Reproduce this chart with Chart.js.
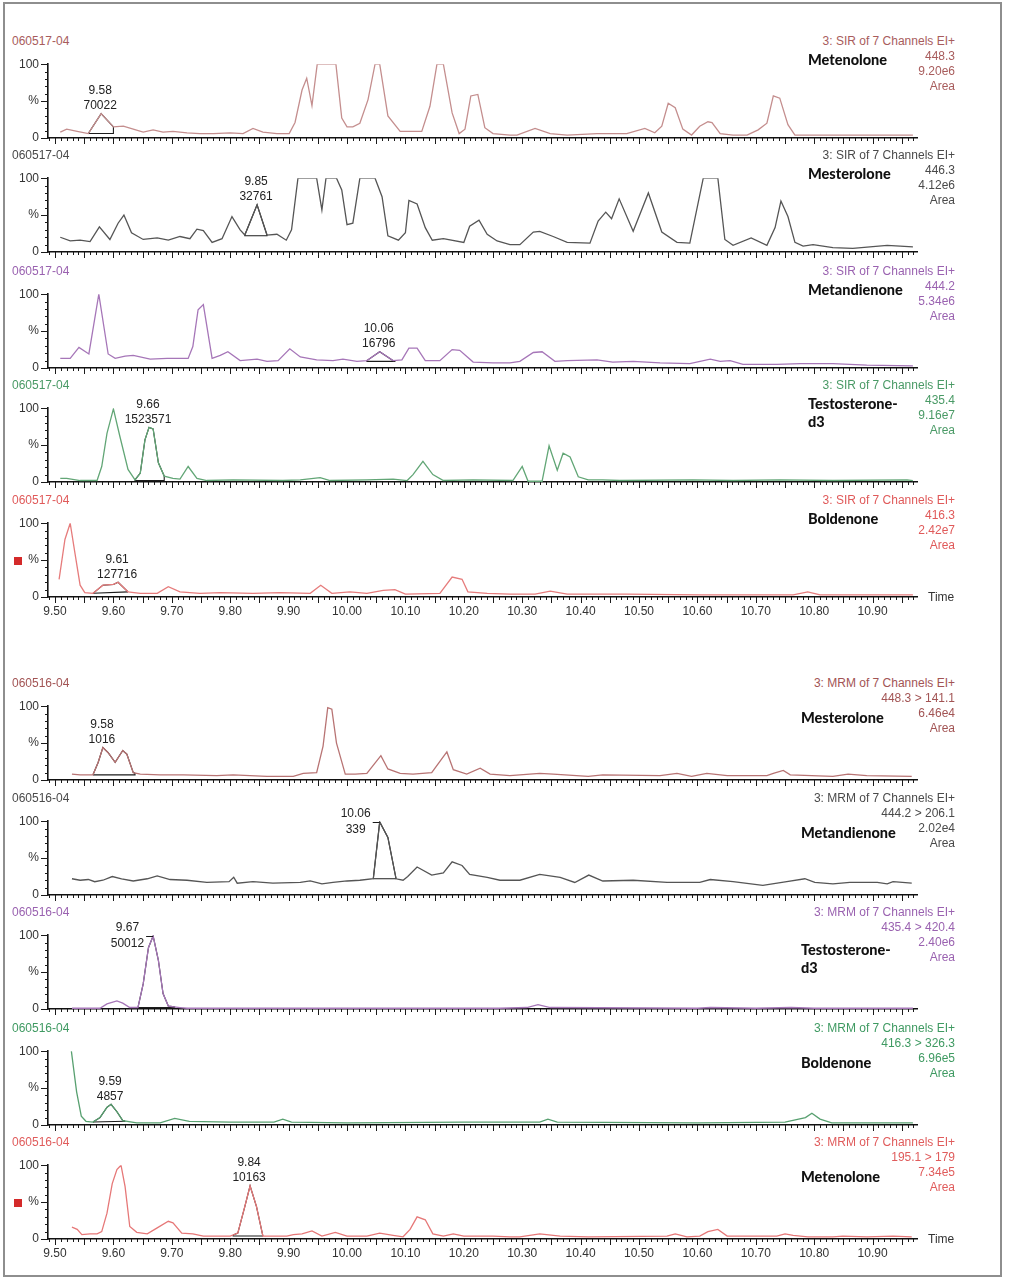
<!DOCTYPE html>
<html><head><meta charset="utf-8">
<script src="https://cdn.jsdelivr.net/npm/chart.js@4/dist/chart.umd.min.js"></script>
<style>
html,body{margin:0;padding:0;background:#fff;}
body{width:1014px;height:1280px;position:relative;overflow:hidden;font-family:"Liberation Sans",Arial,sans-serif;}
.frame{position:absolute;left:3px;top:2px;width:995px;height:1271px;border:2px solid #8e8e8e;}
canvas{position:absolute;left:0;}
.t{position:absolute;font-size:12px;line-height:14px;white-space:nowrap;}
.c{position:absolute;font-family:Lato,"DejaVu Sans",sans-serif;font-weight:900;font-size:14.5px;line-height:18px;color:#111;white-space:pre;}
.sq{position:absolute;width:8px;height:8px;background:#d42a2a;}
</style></head><body>
<div class="frame"></div>
<script>
// ---------------- DATA ----------------
const sampleIds = ['060517-04', '060516-04'];
const sirTitle = '3: SIR of 7 Channels EI+';
const mrmTitle = '3: MRM of 7 Channels EI+';
const sirChannels = ['448.3', '446.3', '444.2', '435.4', '416.3'];
const sirScales = ['9.20e6', '4.12e6', '5.34e6', '9.16e7', '2.42e7'];
const sirCompounds = ['Metenolone', 'Mesterolone', 'Metandienone', 'Testosterone-\nd3', 'Boldenone'];
const mrmChannels = ['448.3 > 141.1', '444.2 > 206.1', '435.4 > 420.4', '416.3 > 326.3', '195.1 > 179'];
const mrmScales = ['6.46e4', '2.02e4', '2.40e6', '6.96e5', '7.34e5'];
const mrmCompounds = ['Mesterolone', 'Metandienone', 'Testosterone-\nd3', 'Boldenone', 'Metenolone'];
const xTickValues = [9.5, 9.6, 9.7, 9.8, 9.9, 10.0, 10.1, 10.2, 10.3, 10.4, 10.5, 10.6, 10.7, 10.8, 10.9];
const yTickValues = [0, 50, 100];
const yTickLabels = ['0', '%', '100'];

// [time (min), relative intensity (%)]
const sirMetenolone = [[9.509,8],[9.52,12],[9.538,9],[9.557,6],[9.579,33],[9.60,15],[9.617,16],[9.634,12],[9.651,8],[9.668,11],[9.685,8],[9.702,9],[9.726,7],[9.748,6],[9.771,6],[9.80,7],[9.822,6],[9.839,13],[9.856,8],[9.88,6],[9.901,6],[9.911,21],[9.923,65],[9.931,81],[9.94,44],[9.949,100],[9.981,100],[9.991,27],[10.0,15],[10.01,15],[10.022,20],[10.036,52],[10.048,100],[10.056,100],[10.07,30],[10.091,9],[10.128,9],[10.142,43],[10.154,100],[10.165,100],[10.18,34],[10.192,6],[10.202,12],[10.212,57],[10.224,59],[10.236,14],[10.25,6],[10.279,4],[10.291,4],[10.322,13],[10.348,6],[10.377,4],[10.428,6],[10.479,6],[10.51,13],[10.527,7],[10.539,16],[10.55,47],[10.562,41],[10.575,12],[10.59,4],[10.604,16],[10.618,22],[10.625,21],[10.639,6],[10.661,4],[10.685,4],[10.704,11],[10.719,20],[10.73,57],[10.741,54],[10.755,18],[10.767,4],[10.832,4],[10.849,4],[10.969,4]];
const sirMesterolone = [[9.509,20],[9.526,15],[9.543,16],[9.56,14],[9.576,34],[9.594,17],[9.608,39],[9.618,50],[9.631,26],[9.651,17],[9.675,19],[9.694,16],[9.714,21],[9.731,18],[9.743,31],[9.754,29],[9.769,13],[9.786,18],[9.803,48],[9.817,30],[9.825,23],[9.846,64],[9.863,23],[9.88,24],[9.896,16],[9.905,30],[9.916,100],[9.948,100],[9.957,57],[9.964,100],[9.982,100],[9.991,84],[10.0,37],[10.01,39],[10.022,100],[10.048,100],[10.06,75],[10.07,22],[10.088,16],[10.1,26],[10.106,70],[10.12,65],[10.134,33],[10.146,16],[10.165,18],[10.2,13],[10.21,35],[10.226,43],[10.24,24],[10.257,15],[10.279,10],[10.296,10],[10.319,27],[10.33,28],[10.353,21],[10.377,13],[10.416,12],[10.43,42],[10.443,54],[10.453,45],[10.466,72],[10.49,28],[10.516,80],[10.539,27],[10.565,13],[10.587,12],[10.61,100],[10.635,100],[10.647,17],[10.661,9],[10.692,19],[10.719,9],[10.733,33],[10.743,69],[10.755,48],[10.767,13],[10.781,8],[10.798,10],[10.832,6],[10.866,5],[10.925,9],[10.969,7]];
const sirMetandienone = [[9.509,13],[9.526,13],[9.541,28],[9.558,19],[9.575,100],[9.591,19],[9.603,13],[9.62,16],[9.634,17],[9.663,12],[9.692,13],[9.728,13],[9.736,29],[9.745,79],[9.754,86],[9.769,13],[9.783,17],[9.796,22],[9.817,10],[9.846,12],[9.863,9],[9.882,10],[9.902,26],[9.92,15],[9.948,11],[9.976,10],[9.993,12],[10.017,9],[10.034,10],[10.056,22],[10.079,10],[10.094,11],[10.106,27],[10.12,27],[10.134,10],[10.159,10],[10.18,25],[10.193,24],[10.216,8],[10.25,7],[10.279,7],[10.296,9],[10.319,21],[10.334,22],[10.356,9],[10.377,10],[10.428,11],[10.455,8],[10.49,9],[10.536,7],[10.587,6],[10.622,12],[10.639,9],[10.656,10],[10.678,5],[10.736,5],[10.776,6],[10.832,6],[10.89,4],[10.969,3]];
const sirTestosteroneD3 = [[9.509,5],[9.52,5],[9.543,2],[9.572,2],[9.58,21],[9.589,66],[9.6,99],[9.611,62],[9.625,17],[9.637,3],[9.646,12],[9.654,57],[9.661,74],[9.668,72],[9.677,26],[9.687,8],[9.702,5],[9.714,4],[9.728,21],[9.743,5],[9.76,2],[9.805,3],[9.89,2],[9.92,3],[9.954,6],[9.971,2],[10.034,3],[10.079,4],[10.103,2],[10.113,10],[10.13,28],[10.147,10],[10.165,2],[10.216,3],[10.284,2],[10.3,21],[10.31,1],[10.334,1],[10.346,49],[10.36,16],[10.37,39],[10.382,34],[10.396,7],[10.413,3],[10.438,3],[10.467,2],[10.592,3],[10.661,2],[10.741,3],[10.832,2],[10.959,3],[10.969,2]];
const sirBoldenone = [[9.507,24],[9.517,78],[9.526,100],[9.534,60],[9.543,16],[9.551,6],[9.565,5],[9.582,16],[9.6,17],[9.608,20],[9.625,7],[9.646,5],[9.675,5],[9.694,14],[9.714,7],[9.748,5],[9.783,6],[9.839,5],[9.885,6],[9.937,5],[9.955,16],[9.974,5],[10.005,7],[10.034,5],[10.062,9],[10.082,10],[10.1,4],[10.159,5],[10.18,27],[10.197,24],[10.207,7],[10.24,5],[10.279,4],[10.322,4],[10.348,8],[10.377,4],[10.479,4],[10.604,3],[10.764,3],[10.789,7],[10.81,3],[10.969,3]];
const mrmMesterolone = [[9.529,8],[9.543,7],[9.565,7],[9.574,24],[9.582,44],[9.591,37],[9.603,24],[9.616,40],[9.623,35],[9.634,10],[9.646,8],[9.68,7],[9.72,7],[9.777,6],[9.805,7],[9.863,5],[9.908,5],[9.925,9],[9.948,10],[9.959,46],[9.967,98],[9.974,96],[9.982,50],[9.997,8],[10.014,8],[10.034,9],[10.058,33],[10.07,15],[10.091,9],[10.113,8],[10.145,10],[10.171,38],[10.182,14],[10.205,8],[10.228,16],[10.245,8],[10.279,6],[10.296,7],[10.33,9],[10.353,8],[10.413,5],[10.438,7],[10.536,6],[10.565,9],[10.59,5],[10.616,9],[10.651,6],[10.719,6],[10.73,9],[10.747,13],[10.759,7],[10.832,5],[10.858,8],[10.89,6],[10.967,5]];
const mrmMetandienone = [[9.529,22],[9.543,20],[9.557,21],[9.568,18],[9.582,20],[9.598,25],[9.614,22],[9.634,19],[9.658,22],[9.675,26],[9.697,21],[9.726,20],[9.76,17],[9.798,18],[9.806,24],[9.812,16],[9.839,18],[9.873,16],[9.92,17],[9.937,19],[9.957,15],[9.976,17],[10.0,19],[10.022,20],[10.045,22],[10.056,99],[10.07,78],[10.084,22],[10.096,20],[10.104,25],[10.12,38],[10.145,27],[10.165,30],[10.18,45],[10.197,40],[10.21,28],[10.24,24],[10.262,20],[10.296,20],[10.33,28],[10.365,24],[10.39,17],[10.414,27],[10.438,19],[10.49,20],[10.548,17],[10.604,17],[10.622,21],[10.661,18],[10.712,13],[10.753,18],[10.784,22],[10.801,17],[10.832,15],[10.861,17],[10.908,17],[10.925,15],[10.935,18],[10.967,16]];
const mrmTestosteroneD3 = [[9.529,1],[9.577,1],[9.589,7],[9.606,11],[9.616,8],[9.628,2],[9.642,2],[9.651,34],[9.66,83],[9.668,99],[9.677,66],[9.685,21],[9.694,4],[9.714,2],[9.726,1],[10.262,1],[10.308,2],[10.327,6],[10.348,2],[10.6,1],[10.622,2],[10.7,1],[10.76,2],[10.8,1],[10.969,1]];
const mrmBoldenone = [[9.528,100],[9.537,45],[9.545,12],[9.553,5],[9.565,4],[9.577,10],[9.589,24],[9.596,28],[9.606,18],[9.616,6],[9.64,3],[9.68,3],[9.705,9],[9.73,5],[9.8,4],[9.875,4],[9.89,8],[9.905,4],[10.0,3],[10.2,4],[10.33,4],[10.344,8],[10.36,4],[10.6,3],[10.75,4],[10.785,10],[10.796,16],[10.81,8],[10.83,3],[10.969,3]];
const mrmMetenolone = [[9.529,16],[9.538,13],[9.546,6],[9.56,7],[9.572,7],[9.58,10],[9.589,35],[9.598,75],[9.606,94],[9.613,100],[9.62,71],[9.628,17],[9.64,9],[9.658,7],[9.675,15],[9.694,24],[9.702,22],[9.717,8],[9.736,7],[9.754,4],[9.8,4],[9.813,8],[9.825,44],[9.834,72],[9.845,44],[9.856,4],[9.897,4],[9.908,6],[9.923,7],[9.94,11],[9.957,4],[9.98,9],[10.0,4],[10.034,4],[10.056,8],[10.079,5],[10.096,3],[10.108,13],[10.12,30],[10.134,26],[10.147,7],[10.165,4],[10.182,7],[10.2,4],[10.25,4],[10.279,3],[10.296,3],[10.33,7],[10.365,4],[10.413,3],[10.548,4],[10.562,7],[10.582,3],[10.604,4],[10.618,10],[10.635,13],[10.651,4],[10.736,4],[10.75,7],[10.764,5],[10.789,3],[10.832,3],[10.849,4],[10.89,3],[10.935,4],[10.967,3]];

// integrated peaks: [start time, baseline at start, end time, baseline at end]
const peakWindows = [[9.557,6,9.60,6],[9.825,22,9.863,22],[10.034,9,10.082,9],[9.637,2,9.687,2],[9.565,5,9.625,7],[9.565,7,9.637,7],[10.045,22,10.084,22],[9.642,2,9.705,2],[9.565,4,9.62,5],[9.805,4,9.856,4]];
const peakTimes = ['9.58','9.85','10.06','9.66','9.61','9.58','10.06','9.67','9.59','9.84'];
const peakAreas = ['70022','32761','16796','1523571','127716','1016','339','50012','4857','10163'];

// ---------------- STYLE / LAYOUT ----------------
const seriesList = [sirMetenolone, sirMesterolone, sirMetandienone, sirTestosteroneD3, sirBoldenone,
                    mrmMesterolone, mrmMetandienone, mrmTestosteroneD3, mrmBoldenone, mrmMetenolone];
const plotTops = [64, 178, 294, 408, 523, 706, 821, 935, 1051, 1165];
const plotH = 74;
const lineColors = ['#c48e8e', '#555555', '#a676b8', '#62a676', '#e67c7c', '#b87474', '#555555', '#a676b8', '#58a070', '#e67878'];
const textColors = ['#a85c5c', '#4a4a4a', '#9a62b0', '#4a9a66', '#e05a5a', '#a25454', '#4a4a4a', '#9a62b0', '#3f9a62', '#e05c5c'];
const labelledAxis = [false, false, false, false, true, false, false, false, false, true];
const X_MIN = 9.488, X_MAX = 10.976;
const RIGHT_EDGE = 955;

function yAt(series, t) {
  for (let i = 1; i < series.length; i++) {
    const a = series[i - 1], b = series[i];
    if (t >= a[0] && t <= b[0]) return a[1] + (b[1] - a[1]) * (t - a[0]) / (b[0] - a[0]);
  }
  return t < series[0][0] ? series[0][1] : series[series.length - 1][1];
}
const toXY = arr => arr.map(p => ({x: p[0], y: p[1]}));

function addText(txt, cls, css) {
  const d = document.createElement('div');
  d.className = cls; d.textContent = txt;
  Object.assign(d.style, css);
  document.body.appendChild(d);
  return d;
}

const chromPlugin = {
  id: 'chrom',
  afterDraw(chart, args, opts) {
    const {ctx, chartArea: a, scales: {x, y}} = chart;
    ctx.save();
    ctx.strokeStyle = '#1a1a1a';
    ctx.lineWidth = 1;
    ctx.beginPath();
    for (let k = 949; k <= 1097; k++) {
      const v = k / 100;
      if (v < x.min || v > x.max) continue;
      const px = Math.round(x.getPixelForValue(v)) + 0.5;
      const len = (k % 5 === 0) ? 6 : 3;
      ctx.moveTo(px, a.bottom);
      ctx.lineTo(px, a.bottom + len);
    }
    for (let v = 0; v <= 100; v += 10) {
      const py = Math.round(y.getPixelForValue(v)) + 0.5;
      const len = (v % 50 === 0) ? 7 : 3;
      ctx.moveTo(a.left - len, py);
      ctx.lineTo(a.left, py);
    }
    ctx.stroke();
    const s = opts.series, w = opts.window;
    let apex = null;
    s.forEach(p => { if (p[0] >= w[0] && p[0] <= w[2] && (!apex || p[1] > apex[1])) apex = p; });
    if (apex) {
      const ax = x.getPixelForValue(apex[0]), ay = y.getPixelForValue(apex[1]);
      ctx.fillStyle = '#222';
      ctx.font = '12px "Liberation Sans", Arial, sans-serif';
      ctx.textAlign = 'center';
      ctx.textBaseline = 'middle';
      if (apex[1] > 85) {
        const wd = Math.max(ctx.measureText(opts.time).width, ctx.measureText(opts.area).width);
        const cx = ax - 9 - wd / 2;
        ctx.fillText(opts.time, cx, ay - 8);
        ctx.fillText(opts.area, cx, ay + 8);
        ctx.beginPath();
        ctx.moveTo(ax - 7, Math.round(ay) + 0.5);
        ctx.lineTo(ax, Math.round(ay) + 0.5);
        ctx.stroke();
      } else {
        ctx.fillText(opts.time, ax - 1, ay - 23);
        ctx.fillText(opts.area, ax - 1, ay - 8);
      }
    }
    ctx.restore();
  }
};

function makeConfig(series, i, w, peakLine, baseLine) {
  return {
    type: 'line',
    data: {
      datasets: [
        {data: toXY(series), borderColor: lineColors[i], borderWidth: 1.3, pointRadius: 0, tension: 0, fill: false},
        {data: toXY(peakLine), borderColor: '#1c1c1c', borderWidth: 1.1, pointRadius: 0, tension: 0, fill: false},
        {data: toXY(baseLine), borderColor: '#1c1c1c', borderWidth: 1.1, pointRadius: 0, tension: 0, fill: false}
      ]
    },
    options: {
      responsive: false, maintainAspectRatio: false, animation: false, devicePixelRatio: 1,
      layout: {padding: {top: 10, left: 0, right: 1014 - 917, bottom: 0}},
      plugins: {
        legend: {display: false}, tooltip: {enabled: false},
        chrom: {series: series, window: w, time: peakTimes[i], area: peakAreas[i]}
      },
      scales: {
        x: {
          type: 'linear', min: X_MIN, max: X_MAX,
          afterFit(sc) { sc.height = 24; },
          afterBuildTicks(sc) { sc.ticks = xTickValues.map(v => ({value: v})); },
          grid: {display: false, drawTicks: false},
          border: {display: true, color: '#111', width: 1.6},
          ticks: {
            autoSkip: false, maxRotation: 0, padding: 7, color: '#333',
            font: {family: '"Liberation Sans", Arial, sans-serif', size: 12},
            callback: v => labelledAxis[i] ? Number(v).toFixed(2) : ''
          }
        },
        y: {
          type: 'linear', min: 0, max: 100,
          afterFit(sc) { sc.width = 48; },
          afterBuildTicks(sc) { sc.ticks = yTickValues.map(v => ({value: v})); },
          grid: {display: false, drawTicks: false},
          border: {display: true, color: '#111', width: 1.6},
          ticks: {
            padding: 9, color: '#333',
            font: {family: '"Liberation Sans", Arial, sans-serif', size: 12},
            callback: v => yTickLabels[yTickValues.indexOf(Number(v))]
          }
        }
      }
    },
    plugins: [chromPlugin]
  };
}

seriesList.forEach((series, i) => {
  const top = plotTops[i];
  const cv = document.createElement('canvas');
  let H = 10 + plotH + 24;
  cv.width = 1014; cv.height = H;
  cv.style.width = '1014px'; cv.style.height = H + 'px';
  cv.style.top = (top - 10) + 'px';
  document.body.appendChild(cv);

  const w = peakWindows[i];
  const peakLine = [[w[0], yAt(series, w[0])]].concat(series.filter(p => p[0] > w[0] && p[0] < w[2]), [[w[2], yAt(series, w[2])]]);
  const baseLine = [[w[0], yAt(series, w[0])], [w[0], w[1]], [w[2], w[3]], [w[2], yAt(series, w[2])]];

  let chart = new Chart(cv, makeConfig(series, i, w, peakLine, baseLine));
  const ca = chart.chartArea;
  const dH = plotH - (ca.bottom - ca.top);
  if (Math.abs(dH) > 0.01) {
    chart.destroy();
    H = H + dH;
    cv.width = 1014; cv.height = H;
    cv.style.width = '1014px'; cv.style.height = H + 'px';
    chart = new Chart(cv, makeConfig(series, i, w, peakLine, baseLine));
  }
  cv.style.top = (top - chart.chartArea.top) + 'px';

  const g = i < 5 ? 0 : 1, j = i % 5;
  const cy = top - 23;
  const col = textColors[i];
  addText(sampleIds[g], 't', {left: '12px', top: (cy - 7) + 'px', color: col});
  addText(g === 0 ? sirTitle : mrmTitle, 't', {right: (1014 - RIGHT_EDGE) + 'px', top: (cy - 7) + 'px', color: col, textAlign: 'right'});
  const lines = g === 0 ? [sirChannels[j], sirScales[j], 'Area'] : [mrmChannels[j], mrmScales[j], 'Area'];
  lines.forEach((ln, k) => addText(ln, 't', {right: (1014 - RIGHT_EDGE) + 'px', top: (cy - 7 + 15 * (k + 1)) + 'px', color: col, textAlign: 'right'}));
  const comp = g === 0 ? sirCompounds[j] : mrmCompounds[j];
  const two = comp.indexOf('\n') >= 0;
  const compTop = g === 0 ? cy + 19 - 9 : (two ? cy + 38 - 9 : cy + 35 - 9);
  addText(comp, 'c', {left: (g === 0 ? 808 : 801) + 'px', top: compTop + 'px'});
  if (labelledAxis[i]) {
    addText('Time', 't', {left: '928px', top: (top + plotH - 7) + 'px', color: '#333'});
    const sq = document.createElement('div');
    sq.className = 'sq';
    sq.style.left = '14px'; sq.style.top = (top + 34) + 'px';
    document.body.appendChild(sq);
  }
});
</script>
</body></html>
